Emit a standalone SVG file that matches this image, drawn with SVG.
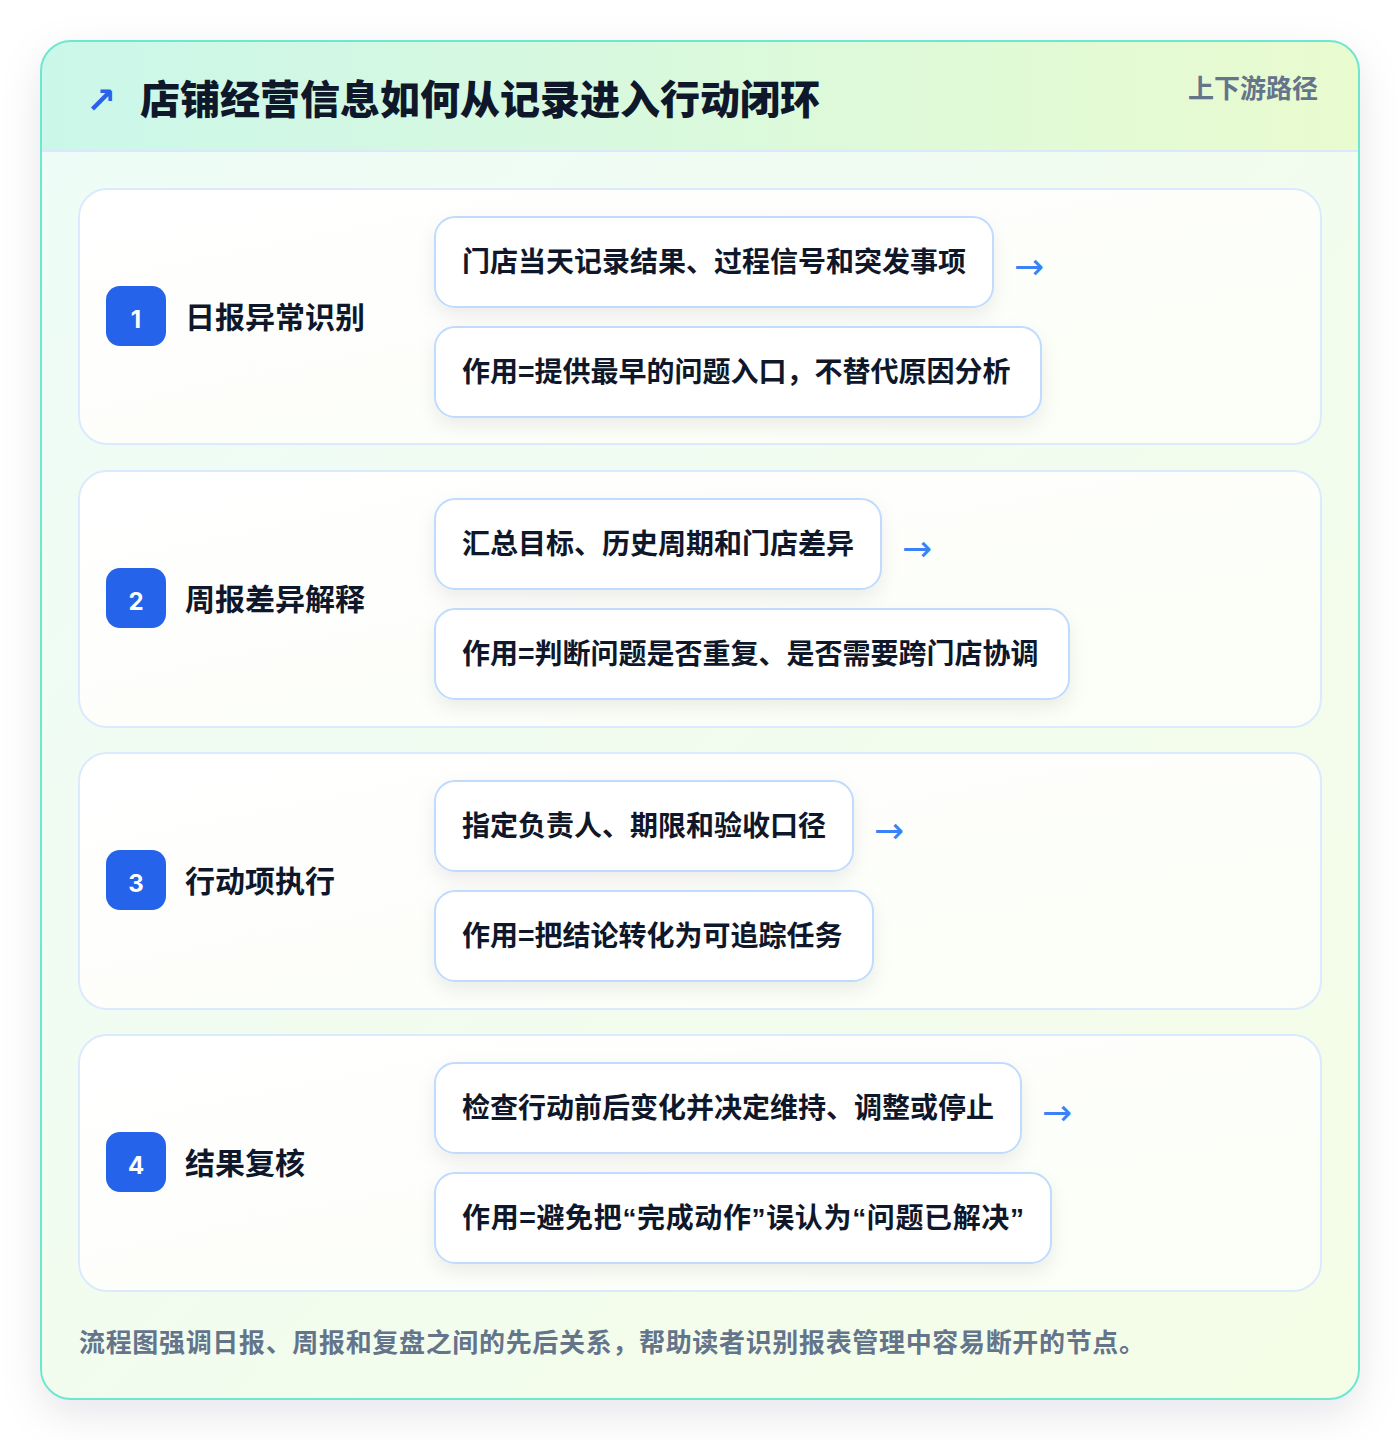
<svg xmlns="http://www.w3.org/2000/svg" width="1400" height="1440" viewBox="0 0 1400 1440">
<defs>
<linearGradient id="cardBg" x1="0" y1="0" x2="1" y2="1">
<stop offset="0" stop-color="#eefcf8"/>
<stop offset="1" stop-color="#f5fde6"/>
</linearGradient>
<linearGradient id="headBg" x1="0" y1="0" x2="1" y2="0">
<stop offset="0" stop-color="#cbf7ea"/>
<stop offset="1" stop-color="#e9fbcf"/>
</linearGradient>
<linearGradient id="rowBg" x1="0" y1="0" x2="1" y2="1">
<stop offset="0" stop-color="#ffffff"/>
<stop offset="1" stop-color="#fbfef6"/>
</linearGradient>
<filter id="cardShadow" x="-10%" y="-10%" width="120%" height="120%">
<feDropShadow dx="0" dy="14" stdDeviation="20" flood-color="#0f172a" flood-opacity="0.10"/>
</filter>
<filter id="boxShadow" x="-10%" y="-20%" width="120%" height="150%">
<feDropShadow dx="0" dy="8" stdDeviation="9" flood-color="#0f172a" flood-opacity="0.07"/>
</filter>
<clipPath id="cardClip"><rect x="41" y="41" width="1318" height="1358" rx="30"/></clipPath>
</defs>
<style>
text{font-family:"Noto Sans CJK SC","Noto Sans",sans-serif;font-weight:700}
.title{font-size:40px;fill:#0f172a;font-weight:900}
.tag{font-size:26px;fill:#64748b}
.row{fill:url(#rowBg);stroke:#dbeafe;stroke-width:2}
.badge{fill:#2563eb}
.num{font-size:24px;fill:#ffffff;font-family:"Inter","Noto Sans",sans-serif;font-weight:700}
.step{font-size:30px;fill:#0f172a}
.box{fill:#ffffff;stroke:#bfdbfe;stroke-width:2;filter:url(#boxShadow)}
.btxt{font-size:28px;fill:#0f172a}
.q{font-family:"Liberation Sans",sans-serif}
.arr{font-size:36px;fill:#3b82f6;font-weight:400;font-family:"DejaVu Sans",sans-serif}
.foot{font-size:26px;fill:#64748b}
</style>
<rect x="0" y="0" width="1400" height="1440" fill="#ffffff"/>
<rect x="41" y="41" width="1318" height="1358" rx="30" fill="url(#cardBg)" filter="url(#cardShadow)"/>
<g clip-path="url(#cardClip)">
<rect x="41" y="41" width="1318" height="110" fill="url(#headBg)"/>
<line x1="41" y1="151" x2="1359" y2="151" stroke="#dbe7fb" stroke-width="2"/>
</g>
<rect x="41" y="41" width="1318" height="1358" rx="30" fill="none" stroke="#6ee7d0" stroke-width="2"/>
<g id="header">
<text x="86" y="113" font-size="36" fill="#2563eb" style="font-family:'DejaVu Sans',sans-serif;font-weight:700">↗</text>
<text class="title" x="140" y="114">店铺经营信息如何从记录进入行动闭环</text>
<text class="tag" x="1318" y="98" text-anchor="end">上下游路径</text>
</g>
<g id="step1">
<rect class="row" x="79" y="189" width="1242" height="255" rx="28"/>
<rect class="badge" x="106" y="286" width="60" height="60" rx="14"/>
<text class="num" x="136" y="328" text-anchor="middle">1</text>
<text class="step" x="185" y="328">日报异常识别</text>
<rect class="box" x="435" y="217" width="558" height="90" rx="20"/>
<text class="btxt" x="462" y="272">门店当天记录结果、过程信号和突发事项</text>
<rect class="box" x="435" y="327" width="606" height="90" rx="20"/>
<text class="btxt" x="462" y="382">作用=提供最早的问题入口，不替代原因分析</text>
</g>
<g id="step2">
<rect class="row" x="79" y="471" width="1242" height="256" rx="28"/>
<rect class="badge" x="106" y="568" width="60" height="60" rx="14"/>
<text class="num" x="136" y="610" text-anchor="middle">2</text>
<text class="step" x="185" y="610">周报差异解释</text>
<rect class="box" x="435" y="499" width="446" height="90" rx="20"/>
<text class="btxt" x="462" y="554">汇总目标、历史周期和门店差异</text>
<rect class="box" x="435" y="609" width="634" height="90" rx="20"/>
<text class="btxt" x="462" y="664">作用=判断问题是否重复、是否需要跨门店协调</text>
</g>
<g id="step3">
<rect class="row" x="79" y="753" width="1242" height="256" rx="28"/>
<rect class="badge" x="106" y="850" width="60" height="60" rx="14"/>
<text class="num" x="136" y="892" text-anchor="middle">3</text>
<text class="step" x="185" y="892">行动项执行</text>
<rect class="box" x="435" y="781" width="418" height="90" rx="20"/>
<text class="btxt" x="462" y="836">指定负责人、期限和验收口径</text>
<rect class="box" x="435" y="891" width="438" height="90" rx="20"/>
<text class="btxt" x="462" y="946">作用=把结论转化为可追踪任务</text>
</g>
<g id="step4">
<rect class="row" x="79" y="1035" width="1242" height="256" rx="28"/>
<rect class="badge" x="106" y="1132" width="60" height="60" rx="14"/>
<text class="num" x="136" y="1174" text-anchor="middle">4</text>
<text class="step" x="185" y="1174">结果复核</text>
<rect class="box" x="435" y="1063" width="586" height="90" rx="20"/>
<text class="btxt" x="462" y="1118">检查行动前后变化并决定维持、调整或停止</text>
<rect class="box" x="435" y="1173" width="616" height="90" rx="20"/>
<text class="btxt" x="462" y="1228" textLength="562" lengthAdjust="spacing">作用=避免把<tspan class="q">“</tspan>完成动作<tspan class="q">”</tspan>误认为<tspan class="q">“</tspan>问题已解决<tspan class="q">”</tspan></text>
</g>
<g id="connectors">
<text class="arr" x="1014" y="279">→</text>
<text class="arr" x="902" y="561">→</text>
<text class="arr" x="874" y="843">→</text>
<text class="arr" x="1042" y="1125">→</text>
</g>
<text class="foot" x="79" y="1352" textLength="1066" lengthAdjust="spacing">流程图强调日报、周报和复盘之间的先后关系，帮助读者识别报表管理中容易断开的节点。</text>
</svg>
